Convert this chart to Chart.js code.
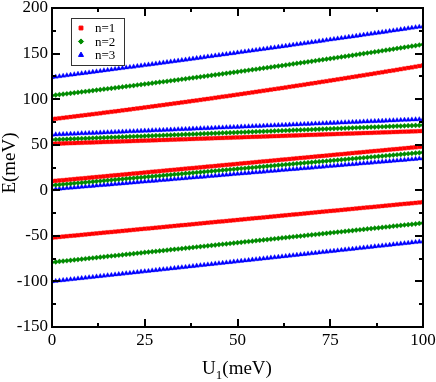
<!DOCTYPE html>
<html>
<head>
<meta charset="utf-8">
<script src="https://cdn.jsdelivr.net/npm/chart.js@4"></script>
<style>
  html, body { margin: 0; padding: 0; background: #fff; }
  #wrap { width: 436px; height: 382px; position: relative; }
</style>
</head>
<body>
<div id="wrap"><canvas id="levels"></canvas></div>
<script>
// U1 (meV)
var u = [0,1,2,3,4,5,6,7,8,9,10,11,12,13,14,15,16,17,18,19,20,21,22,23,24,25,26,27,28,29,30,31,32,33,34,35,36,37,38,39,40,41,42,43,44,45,46,47,48,49,50,51,52,53,54,55,56,57,58,59,60,61,62,63,64,65,66,67,68,69,70,71,72,73,74,75,76,77,78,79,80,81,82,83,84,85,86,87,88,89,90,91,92,93,94,95,96,97,98,99,100];

// n=1 branches, E (meV)
var n1_top = [78.0,78.5,79.0,79.5,80.0,80.5,81.0,81.5,82.0,82.5,83.0,83.5,84.0,84.5,85.1,85.6,86.1,86.6,87.1,87.7,88.2,88.7,89.3,89.8,90.3,90.9,91.4,92.0,92.5,93.1,93.6,94.2,94.7,95.3,95.8,96.4,96.9,97.5,98.1,98.6,99.2,99.8,100.3,100.9,101.5,102.1,102.7,103.2,103.8,104.4,105.0,105.6,106.2,106.8,107.4,108.0,108.6,109.2,109.8,110.4,111.0,111.6,112.2,112.8,113.5,114.1,114.7,115.3,115.9,116.6,117.2,117.8,118.5,119.1,119.7,120.4,121.0,121.7,122.3,123.0,123.6,124.3,124.9,125.6,126.2,126.9,127.5,128.2,128.9,129.5,130.2,130.9,131.5,132.2,132.9,133.6,134.3,134.9,135.6,136.3,137.0];
var n1_mid = [51.0,51.1,51.3,51.4,51.6,51.7,51.8,52.0,52.1,52.3,52.4,52.5,52.7,52.8,53.0,53.1,53.2,53.4,53.5,53.7,53.8,53.9,54.1,54.2,54.4,54.5,54.6,54.8,54.9,55.1,55.2,55.3,55.5,55.6,55.8,55.9,56.0,56.2,56.3,56.5,56.6,56.7,56.9,57.0,57.2,57.3,57.4,57.6,57.7,57.9,58.0,58.1,58.3,58.4,58.6,58.7,58.8,59.0,59.1,59.3,59.4,59.5,59.7,59.8,60.0,60.1,60.2,60.4,60.5,60.7,60.8,60.9,61.1,61.2,61.4,61.5,61.6,61.8,61.9,62.1,62.2,62.3,62.5,62.6,62.8,62.9,63.0,63.2,63.3,63.5,63.6,63.7,63.9,64.0,64.2,64.3,64.4,64.6,64.7,64.9,65.0];
var n1_low = [10.0,10.4,10.8,11.1,11.5,11.9,12.3,12.7,13.0,13.4,13.8,14.2,14.6,14.9,15.3,15.7,16.1,16.5,16.8,17.2,17.6,18.0,18.4,18.7,19.1,19.5,19.9,20.3,20.6,21.0,21.4,21.8,22.2,22.5,22.9,23.3,23.7,24.1,24.4,24.8,25.2,25.6,26.0,26.3,26.7,27.1,27.5,27.9,28.2,28.6,29.0,29.4,29.8,30.1,30.5,30.9,31.3,31.7,32.0,32.4,32.8,33.2,33.6,33.9,34.3,34.7,35.1,35.5,35.8,36.2,36.6,37.0,37.4,37.7,38.1,38.5,38.9,39.3,39.6,40.0,40.4,40.8,41.2,41.5,41.9,42.3,42.7,43.1,43.4,43.8,44.2,44.6,45.0,45.3,45.7,46.1,46.5,46.9,47.2,47.6,48.0];
var n1_bot = [-52.0,-51.6,-51.2,-50.8,-50.4,-50.0,-49.7,-49.3,-48.9,-48.5,-48.1,-47.7,-47.3,-46.9,-46.5,-46.1,-45.8,-45.4,-45.0,-44.6,-44.2,-43.8,-43.4,-43.0,-42.6,-42.2,-41.9,-41.5,-41.1,-40.7,-40.3,-39.9,-39.5,-39.1,-38.7,-38.3,-38.0,-37.6,-37.2,-36.8,-36.4,-36.0,-35.6,-35.2,-34.8,-34.4,-34.1,-33.7,-33.3,-32.9,-32.5,-32.1,-31.7,-31.3,-30.9,-30.5,-30.2,-29.8,-29.4,-29.0,-28.6,-28.2,-27.8,-27.4,-27.0,-26.6,-26.3,-25.9,-25.5,-25.1,-24.7,-24.3,-23.9,-23.5,-23.1,-22.7,-22.4,-22.0,-21.6,-21.2,-20.8,-20.4,-20.0,-19.6,-19.2,-18.8,-18.5,-18.1,-17.7,-17.3,-16.9,-16.5,-16.1,-15.7,-15.3,-14.9,-14.6,-14.2,-13.8,-13.4,-13.0];

// n=2 branches
var n2_top = [104.0,104.5,105.0,105.4,105.9,106.4,106.9,107.4,107.9,108.4,108.9,109.4,109.9,110.4,110.9,111.4,111.9,112.4,112.9,113.4,113.9,114.4,114.9,115.5,116.0,116.5,117.0,117.5,118.1,118.6,119.1,119.6,120.2,120.7,121.2,121.8,122.3,122.9,123.4,123.9,124.5,125.0,125.6,126.1,126.7,127.2,127.8,128.3,128.9,129.4,130.0,130.6,131.1,131.7,132.3,132.8,133.4,134.0,134.5,135.1,135.7,136.3,136.8,137.4,138.0,138.6,139.2,139.8,140.3,140.9,141.5,142.1,142.7,143.3,143.9,144.5,145.1,145.7,146.3,146.9,147.5,148.1,148.7,149.4,150.0,150.6,151.2,151.8,152.4,153.1,153.7,154.3,154.9,155.6,156.2,156.8,157.5,158.1,158.7,159.4,160.0];
var n2_mid = [55.5,55.7,55.8,56.0,56.1,56.3,56.5,56.6,56.8,56.9,57.1,57.3,57.4,57.6,57.7,57.9,58.1,58.2,58.4,58.5,58.7,58.9,59.0,59.2,59.3,59.5,59.7,59.8,60.0,60.1,60.3,60.5,60.6,60.8,60.9,61.1,61.3,61.4,61.6,61.7,61.9,62.1,62.2,62.4,62.5,62.7,62.9,63.0,63.2,63.3,63.5,63.7,63.8,64.0,64.1,64.3,64.5,64.6,64.8,64.9,65.1,65.3,65.4,65.6,65.7,65.9,66.1,66.2,66.4,66.5,66.7,66.9,67.0,67.2,67.3,67.5,67.7,67.8,68.0,68.1,68.3,68.5,68.6,68.8,68.9,69.1,69.3,69.4,69.6,69.7,69.9,70.1,70.2,70.4,70.5,70.7,70.9,71.0,71.2,71.3,71.5];
var n2_low = [5.5,5.9,6.2,6.6,6.9,7.3,7.7,8.0,8.4,8.7,9.1,9.5,9.8,10.2,10.5,10.9,11.3,11.6,12.0,12.3,12.7,13.1,13.4,13.8,14.1,14.5,14.9,15.2,15.6,15.9,16.3,16.7,17.0,17.4,17.7,18.1,18.5,18.8,19.2,19.5,19.9,20.3,20.6,21.0,21.3,21.7,22.1,22.4,22.8,23.1,23.5,23.9,24.2,24.6,24.9,25.3,25.7,26.0,26.4,26.7,27.1,27.5,27.8,28.2,28.5,28.9,29.3,29.6,30.0,30.3,30.7,31.1,31.4,31.8,32.1,32.5,32.9,33.2,33.6,33.9,34.3,34.7,35.0,35.4,35.7,36.1,36.5,36.8,37.2,37.5,37.9,38.3,38.6,39.0,39.3,39.7,40.1,40.4,40.8,41.1,41.5];
var n2_bot = [-79.0,-78.6,-78.1,-77.7,-77.3,-76.8,-76.4,-76.0,-75.6,-75.1,-74.7,-74.3,-73.8,-73.4,-73.0,-72.5,-72.1,-71.7,-71.3,-70.8,-70.4,-70.0,-69.5,-69.1,-68.7,-68.2,-67.8,-67.4,-67.0,-66.5,-66.1,-65.7,-65.2,-64.8,-64.4,-63.9,-63.5,-63.1,-62.7,-62.2,-61.8,-61.4,-60.9,-60.5,-60.1,-59.6,-59.2,-58.8,-58.4,-57.9,-57.5,-57.1,-56.6,-56.2,-55.8,-55.3,-54.9,-54.5,-54.1,-53.6,-53.2,-52.8,-52.3,-51.9,-51.5,-51.0,-50.6,-50.2,-49.8,-49.3,-48.9,-48.5,-48.0,-47.6,-47.2,-46.7,-46.3,-45.9,-45.5,-45.0,-44.6,-44.2,-43.7,-43.3,-42.9,-42.4,-42.0,-41.6,-41.2,-40.7,-40.3,-39.9,-39.4,-39.0,-38.6,-38.1,-37.7,-37.3,-36.9,-36.4,-36.0];

// n=3 branches
var n3_top = [124.0,124.5,125.0,125.6,126.1,126.6,127.1,127.7,128.2,128.7,129.2,129.8,130.3,130.8,131.4,131.9,132.4,133.0,133.5,134.0,134.6,135.1,135.6,136.2,136.7,137.3,137.8,138.3,138.9,139.4,140.0,140.5,141.1,141.6,142.1,142.7,143.2,143.8,144.3,144.9,145.4,146.0,146.6,147.1,147.7,148.2,148.8,149.3,149.9,150.4,151.0,151.6,152.1,152.7,153.2,153.8,154.4,154.9,155.5,156.1,156.6,157.2,157.8,158.3,158.9,159.5,160.1,160.6,161.2,161.8,162.4,162.9,163.5,164.1,164.7,165.3,165.8,166.4,167.0,167.6,168.2,168.7,169.3,169.9,170.5,171.1,171.7,172.3,172.9,173.4,174.0,174.6,175.2,175.8,176.4,177.0,177.6,178.2,178.8,179.4,180.0];
var n3_mid = [61.0,61.2,61.3,61.5,61.7,61.9,62.0,62.2,62.4,62.5,62.7,62.9,63.0,63.2,63.4,63.6,63.7,63.9,64.1,64.2,64.4,64.6,64.7,64.9,65.1,65.3,65.4,65.6,65.8,65.9,66.1,66.3,66.4,66.6,66.8,67.0,67.1,67.3,67.5,67.6,67.8,68.0,68.1,68.3,68.5,68.7,68.8,69.0,69.2,69.3,69.5,69.7,69.8,70.0,70.2,70.4,70.5,70.7,70.9,71.0,71.2,71.4,71.5,71.7,71.9,72.1,72.2,72.4,72.6,72.7,72.9,73.1,73.2,73.4,73.6,73.8,73.9,74.1,74.3,74.4,74.6,74.8,74.9,75.1,75.3,75.5,75.6,75.8,76.0,76.1,76.3,76.5,76.6,76.8,77.0,77.2,77.3,77.5,77.7,77.8,78.0];
var n3_low = [1.0,1.3,1.7,2.0,2.4,2.7,3.0,3.4,3.7,4.1,4.4,4.7,5.1,5.4,5.8,6.1,6.4,6.8,7.1,7.5,7.8,8.1,8.5,8.8,9.2,9.5,9.8,10.2,10.5,10.9,11.2,11.5,11.9,12.2,12.6,12.9,13.2,13.6,13.9,14.3,14.6,14.9,15.3,15.6,16.0,16.3,16.6,17.0,17.3,17.7,18.0,18.3,18.7,19.0,19.4,19.7,20.0,20.4,20.7,21.1,21.4,21.7,22.1,22.4,22.8,23.1,23.4,23.8,24.1,24.5,24.8,25.1,25.5,25.8,26.2,26.5,26.8,27.2,27.5,27.9,28.2,28.5,28.9,29.2,29.6,29.9,30.2,30.6,30.9,31.3,31.6,31.9,32.3,32.6,33.0,33.3,33.6,34.0,34.3,34.7,35.0];
var n3_bot = [-100.0,-99.6,-99.1,-98.7,-98.2,-97.8,-97.4,-96.9,-96.5,-96.0,-95.6,-95.2,-94.7,-94.3,-93.8,-93.4,-93.0,-92.5,-92.1,-91.6,-91.2,-90.8,-90.3,-89.9,-89.4,-89.0,-88.6,-88.1,-87.7,-87.2,-86.8,-86.4,-85.9,-85.5,-85.0,-84.6,-84.2,-83.7,-83.3,-82.8,-82.4,-82.0,-81.5,-81.1,-80.6,-80.2,-79.8,-79.3,-78.9,-78.4,-78.0,-77.6,-77.1,-76.7,-76.2,-75.8,-75.4,-74.9,-74.5,-74.0,-73.6,-73.2,-72.7,-72.3,-71.8,-71.4,-71.0,-70.5,-70.1,-69.6,-69.2,-68.8,-68.3,-67.9,-67.4,-67.0,-66.6,-66.1,-65.7,-65.2,-64.8,-64.4,-63.9,-63.5,-63.0,-62.6,-62.2,-61.7,-61.3,-60.8,-60.4,-60.0,-59.5,-59.1,-58.6,-58.2,-57.8,-57.3,-56.9,-56.4,-56.0];

var seriesNames = ['n=1', 'n=2', 'n=3'];
var xMajor = [0, 25, 50, 75, 100];
var xMinor = [12.5, 37.5, 62.5, 87.5];
var yMajor = [-150, -100, -50, 0, 50, 100, 150, 200];
var yMinor = [-125, -75, -25, 25, 75, 125, 175];

var red = '#ff0000', green = '#008c00', blue = '#0000ff';
var serif = 'Liberation Serif';

function pts(ys) {
  return u.map(function(x, i){ return {x: x, y: ys[i]}; });
}

function branch(ys, s) {
  return {
    data: pts(ys),
    showLine: false,
    pointStyle: s.style,
    pointRadius: s.r,
    pointBackgroundColor: s.color,
    pointBorderColor: s.color,
    pointBorderWidth: 0.3
  };
}

var styles = [
  {color: red, style: 'rect', r: 2.7},
  {color: green, style: 'rectRot', r: 2.6},
  {color: blue, style: 'triangle', r: 2.9}
];

// inward ticks, frame, legend box and axis titles
var decor = {
  id: 'decor',
  afterDatasetsDraw: function(chart) {
    var ctx = chart.ctx, a = chart.chartArea;
    var xs = chart.scales.x, ys = chart.scales.y;
    ctx.save();
    ctx.strokeStyle = '#000';
    ctx.lineWidth = 2;
    ctx.beginPath();
    function xt(v, len) {
      var p = Math.round(xs.getPixelForValue(v));
      ctx.moveTo(p, a.bottom); ctx.lineTo(p, a.bottom - len);
      ctx.moveTo(p, a.top); ctx.lineTo(p, a.top + len);
    }
    function yt(v, len) {
      var p = Math.round(ys.getPixelForValue(v));
      ctx.moveTo(a.left, p); ctx.lineTo(a.left + len, p);
      ctx.moveTo(a.right, p); ctx.lineTo(a.right - len, p);
    }
    xMajor.forEach(function(v){ xt(v, 8); });
    xMinor.forEach(function(v){ xt(v, 4); });
    yMajor.forEach(function(v){ yt(v, 8); });
    yMinor.forEach(function(v){ yt(v, 4); });
    ctx.stroke();
    ctx.strokeRect(a.left, a.top, a.right - a.left, a.bottom - a.top);

    // legend
    ctx.fillStyle = '#fff';
    ctx.fillRect(71, 18, 53, 47);
    ctx.lineWidth = 1;
    ctx.strokeStyle = '#333';
    ctx.strokeRect(71.5, 18.5, 53, 47);
    ctx.font = '13px "' + serif + '"';
    ctx.textBaseline = 'middle';
    ctx.textAlign = 'left';
    seriesNames.forEach(function(name, i){
      var y = 28 + i * 13.5;
      var s = styles[i];
      ctx.fillStyle = s.color;
      ctx.strokeStyle = s.color;
      Chart.helpers.drawPoint(ctx, {pointStyle: s.style, radius: s.r, rotation: 0, borderWidth: 0.3}, 81, y);
      ctx.fillStyle = '#000';
      ctx.fillText(name, 95, y + 1);
    });

    // axis titles
    ctx.fillStyle = '#000';
    ctx.textBaseline = 'alphabetic';
    ctx.font = '19px "' + serif + '"';
    var w1 = ctx.measureText('U').width;
    ctx.font = '13px "' + serif + '"';
    var w2 = ctx.measureText('1').width;
    ctx.font = '19px "' + serif + '"';
    var w3 = ctx.measureText('(meV)').width;
    var x0 = 237 - (w1 + w2 + w3) / 2;
    ctx.fillText('U', x0, 374);
    ctx.font = '13px "' + serif + '"';
    ctx.fillText('1', x0 + w1, 379);
    ctx.font = '19px "' + serif + '"';
    ctx.fillText('(meV)', x0 + w1 + w2, 374);

    ctx.translate(15, 163);
    ctx.rotate(-Math.PI / 2);
    ctx.textAlign = 'center';
    ctx.fillText('E(meV)', 0, 0);
    ctx.restore();
  }
};

var datasets = [
  branch(n1_top, styles[0]),
  branch(n1_mid, styles[0]),
  branch(n1_low, styles[0]),
  branch(n1_bot, styles[0]),
  branch(n2_top, styles[1]),
  branch(n2_mid, styles[1]),
  branch(n2_low, styles[1]),
  branch(n2_bot, styles[1]),
  branch(n3_top, styles[2]),
  branch(n3_mid, styles[2]),
  branch(n3_low, styles[2]),
  branch(n3_bot, styles[2])
];

var tickFont = {family: serif, size: 17, lineHeight: 1};

new Chart(document.getElementById('levels'), {
  type: 'scatter',
  data: { datasets: datasets },
  options: {
    responsive: true,
    maintainAspectRatio: false,
    animation: false,
    layout: { padding: {left: 0, right: 13, top: 8, bottom: 0} },
    plugins: { legend: {display: false}, tooltip: {enabled: false} },
    scales: {
      x: {
        type: 'linear', min: 0, max: 100,
        ticks: { stepSize: 25, color: '#000', font: tickFont, padding: 5, maxRotation: 0 },
        grid: { display: false, drawTicks: false },
        border: { display: false },
        afterFit: function(s){ s.height = 55; s.paddingLeft = 0; s.paddingRight = 0; }
      },
      y: {
        min: -150, max: 200,
        ticks: { stepSize: 50, color: '#000', font: tickFont, padding: 4 },
        grid: { display: false, drawTicks: false },
        border: { display: false },
        afterFit: function(s){ s.width = 52; s.paddingTop = 0; s.paddingBottom = 0; }
      }
    }
  },
  plugins: [decor]
});
</script>
</body>
</html>
